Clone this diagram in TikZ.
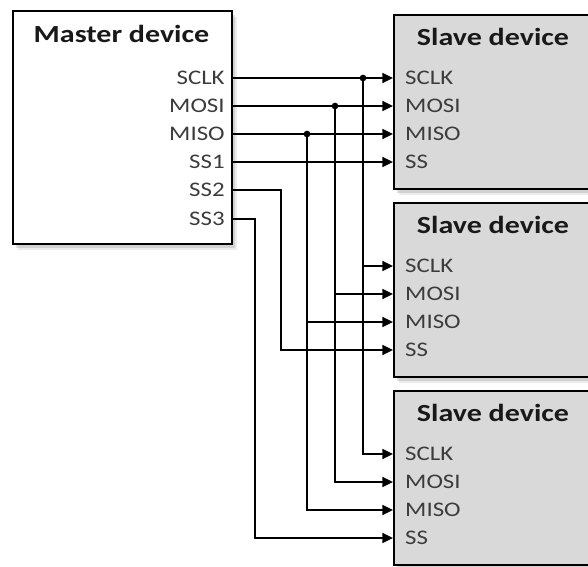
\documentclass[tikz,border=0pt]{standalone}
\usepackage{fontspec}
\setmainfont{Carlito}
\usetikzlibrary{arrows.meta, shadows}
\definecolor{SlaveGray}{RGB}{217, 217, 217}
\definecolor{PinGray}{RGB}{60, 60, 60}

\begin{document}
\begin{tikzpicture}[
    x=0.02cm, y=-0.02cm,
    % --- Styles ---
    % Style for the device boxes
    device-box/.style={
        draw, line width=1.3pt, anchor=north west,
        drop shadow={shadow xshift=1.5pt, shadow yshift=-2pt, opacity=0.25},
        drop shadow={shadow xshift=3pt, shadow yshift=-3.5pt, opacity=0.15}
    },
    % Style for the box titles
    title-label/.style={
        font=\fontsize{14}{16}\selectfont\bfseries,
        text=black!90, anchor=base, inner sep=0pt,
        xscale=1.22, transform shape % Wide letters as in the figure
    },
    % Style for the pin names
    pin-label/.style={
        font=\fontsize{11.8}{14}\selectfont,
        text=PinGray, inner ysep=0pt,
        xscale=1.2, transform shape
    },
    % Style for the signal lines
    wire/.style={line width=1.3pt},
    wire-arrow/.style={wire, -{Triangle[length=6pt, width=5.5pt]}}
]

\clip (0,0) rectangle (588,566);

% --- Master device ---
\node[device-box, fill=white, minimum width=4.38cm, minimum height=4.66cm] (master) at (12,10) {};
\node[title-label] (master-title) at (121.5,42) {Master device};
\foreach \pin/\row in {SCLK/78, MOSI/106, MISO/134, SS1/162, SS2/190, SS3/219} {
    \node[pin-label, anchor=east, inner xsep=2.8pt] (m-\pin) at (231,\row) {\pin};
}

% --- Slave devices ---
\foreach \dev/\ytop in {1/14, 2/202, 3/390} {
    \node[device-box, fill=SlaveGray, minimum width=4.02cm, minimum height=3.48cm] (s\dev) at (393,\ytop) {};
    \node[title-label] (s\dev-title) at (493,\ytop+31) {Slave device};
    \foreach \pin [count=\k from 0] in {SCLK, MOSI, MISO, SS} {
        \node[pin-label, anchor=west, inner xsep=5.6pt] (s\dev-\pin) at (393,\ytop+64+28*\k) {\pin};
    }
}

% --- Lines to the first slave ---
\foreach \pin/\spin in {SCLK/SCLK, MOSI/MOSI, MISO/MISO, SS1/SS} {
    \draw[wire-arrow] (m-\pin.east) -- (s1-\spin.west);
}

% --- Shared bus lines ---
\foreach \pin/\bx in {SCLK/363, MOSI/335, MISO/307} {
    \coordinate (bus-\pin) at (\bx,0);
    \fill (bus-\pin |- m-\pin.east) circle (1.9pt);
    \draw[wire-arrow] (bus-\pin |- m-\pin.east) |- (s3-\pin.west);
    \draw[wire-arrow] (bus-\pin |- s2-\pin.west) -- (s2-\pin.west);
}

% --- Slave select lines ---
\draw[wire-arrow] (m-SS2.east) -- ++(50,0) |- (s2-SS.west);
\draw[wire-arrow] (m-SS3.east) -- ++(24,0) |- (s3-SS.west);

\end{tikzpicture}
\end{document}
